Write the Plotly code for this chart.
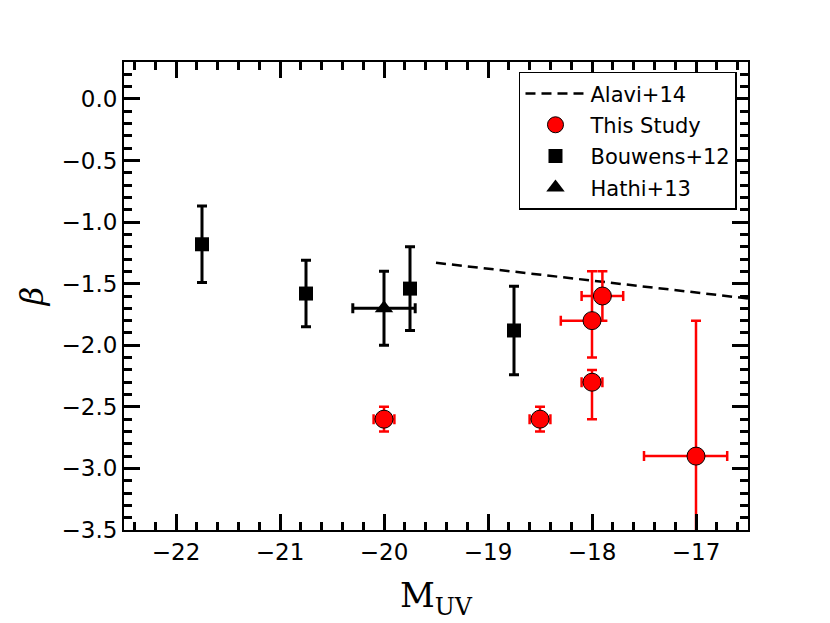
import plotly.graph_objects as go

# This Study
study_m = [-20.0, -18.5, -18.0, -18.0, -17.9, -17.0]
study_beta = [-2.6, -2.6, -2.3, -1.8, -1.6, -2.9]
study_beta_up = [0.1, 0.1, 0.1, 0.4, 0.2, 1.1]
study_beta_dn = [0.1, 0.1, 0.3, 0.3, 0.2, 1.1]
study_m_up = [0.1, 0.1, 0.1, 0.05, 0.2, 0.3]
study_m_dn = [0.1, 0.1, 0.1, 0.3, 0.2, 0.5]

# Bouwens+12
bouwens_m = [-21.75, -20.75, -19.75, -18.75]
bouwens_beta = [-1.18, -1.58, -1.54, -1.88]
bouwens_err = [0.31, 0.27, 0.34, 0.36]

# Hathi+13
hathi_m = [-20.0]
hathi_beta = [-1.70]
hathi_beta_err = [0.30]
hathi_m_err = [0.30]

# Alavi+14 relation
alavi_m = [-19.5, -16.5]
alavi_beta = [-1.33, -1.62]

fig = go.Figure()

fig.add_trace(go.Scatter(
    x=alavi_m, y=alavi_beta, mode="lines", name="Alavi+14", legendgroup="a",
    line=dict(color="black", width=2.5, dash="10px,6px"),
))

fig.add_trace(go.Scatter(
    x=study_m, y=study_beta, mode="markers", name="This Study", legendgroup="b",
    marker=dict(color="red", size=18, line=dict(color="black", width=1)),
    error_y=dict(type="data", symmetric=False, array=study_beta_up, arrayminus=study_beta_dn,
                 color="red", thickness=2.5, width=5),
    error_x=dict(type="data", symmetric=False, array=study_m_up, arrayminus=study_m_dn,
                 color="red", thickness=2.5, width=5),
))

fig.add_trace(go.Scatter(
    x=bouwens_m, y=bouwens_beta, mode="markers", name="Bouwens+12", legendgroup="c",
    marker=dict(color="black", size=14, symbol="square"),
    error_y=dict(type="data", array=bouwens_err, color="black", thickness=3, width=5),
))

fig.add_trace(go.Scatter(
    x=hathi_m, y=hathi_beta, mode="markers", name="Hathi+13", legendgroup="d",
    marker=dict(color="black", size=16, symbol="triangle-up"),
    error_y=dict(type="data", array=hathi_beta_err, color="black", thickness=3, width=5),
    error_x=dict(type="data", array=hathi_m_err, color="black", thickness=3, width=5),
))

axis_common = dict(
    showgrid=False, zeroline=False, showline=True, linecolor="black", linewidth=2,
    mirror="ticks", ticks="inside", ticklen=16, tickwidth=2.5, tickcolor="black",
    tickfont=dict(family="DejaVu Sans", size=23, color="black"),
)

fig.update_xaxes(
    range=[-22.5, -16.5], dtick=1, tick0=-22,
    minor=dict(ticks="inside", dtick=0.2, ticklen=8, tickwidth=2.5, tickcolor="black"),
    title=dict(text="M<sub>UV</sub>", font=dict(family="DejaVu Serif", size=34, color="black"),
               standoff=20),
    **axis_common,
)
fig.update_yaxes(
    range=[-3.5, 0.3], dtick=0.5, tick0=0, tickformat=".1f",
    minor=dict(ticks="inside", dtick=0.1, ticklen=8, tickwidth=2.5, tickcolor="black"),
    title=dict(text="<i>β</i>", font=dict(family="DejaVu Serif", size=32, color="black"),
               standoff=8),
    **axis_common,
)

fig.update_layout(
    width=822, height=615,
    margin=dict(l=116, r=82, t=54, b=93),
    paper_bgcolor="white", plot_bgcolor="white",
    showlegend=True,
    legend=dict(x=0.633, y=0.979, xanchor="left", yanchor="top",
                bgcolor="white", bordercolor="black", borderwidth=1.5,
                font=dict(family="DejaVu Sans", size=21, color="black"),
                itemwidth=60, tracegroupgap=1),
)

fig.write_html("out.html")
